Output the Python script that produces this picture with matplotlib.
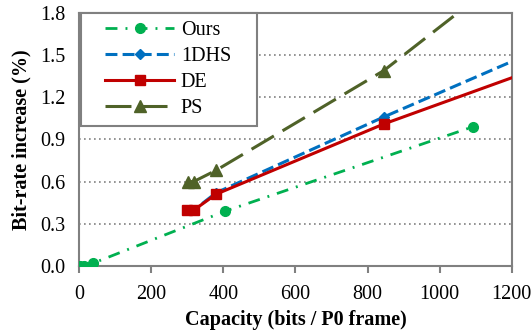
import matplotlib.pyplot as plt
from matplotlib.legend_handler import HandlerLine2D

plt.rcParams['font.family'] = ['Liberation Serif', 'DejaVu Serif']

# data
ours_x = [3, 14, 40, 406, 1092]
ours_y = [0.0, 0.0, 0.02, 0.39, 0.99]

dhs_x = [300, 320, 380, 845, 1600]
dhs_y = [0.40, 0.40, 0.52, 1.06, 1.90]

de_x = [300, 320, 380, 845, 1600]
de_y = [0.40, 0.40, 0.51, 1.01, 1.71]

ps_x = [302, 318, 380, 845, 1600]
ps_y = [0.60, 0.60, 0.68, 1.39, 2.90]

green = '#00b050'
blue = '#0070c0'
red = '#c00000'
olive = '#4f6228'

fs = 14.5

fig = plt.figure(figsize=(5.32, 3.34), dpi=100)
ax = fig.add_axes([0.1485, 0.204, 0.8135, 0.757])

ax.plot(ours_x, ours_y, color=green, lw=2.0, dashes=(4.3, 2.9, 0.7, 2.9), marker='o',
        markersize=7, label='Ours', zorder=3)
ax.plot(dhs_x, dhs_y, color=blue, lw=2.2, dashes=(3.9, 1.7), marker='D',
        markersize=5, label='1DHS', zorder=3)
ax.plot(de_x, de_y, color=red, lw=2.2, marker='s', markersize=7,
        label='DE', zorder=4)
ax.plot(ps_x, ps_y, color=olive, lw=2.2, dashes=(8.5, 3.3), marker='^',
        markersize=8, label='PS', zorder=3)

ax.set_xlim(0, 1200)
ax.set_ylim(0, 1.8)
ax.set_xticks(range(0, 1201, 200))
ax.set_yticks([0.0, 0.3, 0.6, 0.9, 1.2, 1.5, 1.8])
ax.set_yticklabels(['0.0', '0.3', '0.6', '0.9', '1.2', '1.5', '1.8'])
ax.yaxis.grid(True, linestyle=(0, (1, 2)), color='#808080', lw=1.2)
ax.set_axisbelow(True)

for s in ax.spines.values():
    s.set_color('#808080')
    s.set_linewidth(1.5)
ax.tick_params(axis='x', direction='out', length=5, width=1.5, color='#808080',
               labelsize=fs, pad=9)
ax.tick_params(axis='y', length=0, labelsize=fs, pad=10)

ax.set_xlabel('Capacity (bits / P0 frame)', fontsize=fs, fontweight='bold', labelpad=4)
ax.set_ylabel('Bit-rate increase (%)', fontsize=fs, fontweight='bold', labelpad=6)

# handles start a bit right of the frame edge, like the reference
hmap = {l: HandlerLine2D(xpad=0.8) for l in ax.get_lines()}
leg = ax.legend(loc='upper left', bbox_to_anchor=(0.005, 0.0, 0.406, 1.0),
                mode='expand', fontsize=fs, handlelength=4.2, frameon=True,
                fancybox=False, borderpad=0.4, labelspacing=0.34,
                handletextpad=0.35, borderaxespad=0.0, handler_map=hmap)
leg.get_frame().set_edgecolor('#808080')
leg.get_frame().set_linewidth(1.5)
leg.get_frame().set_alpha(1)

plt.savefig('out.png', dpi=100)
